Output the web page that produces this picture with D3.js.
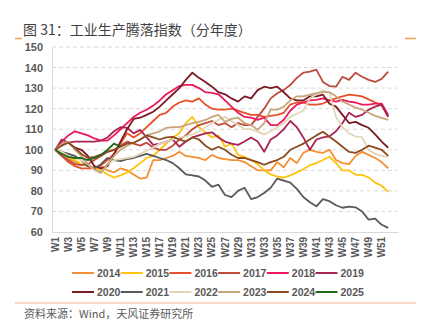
<!DOCTYPE html>
<html><head><meta charset="utf-8">
<script src="https://cdn.jsdelivr.net/npm/d3@7"></script>
<style>
body{margin:0;background:#fff;}
svg{display:block;}
</style></head>
<body>
<svg id="chart" width="424" height="328"></svg>
<script>
const weeks = d3.range(1, 54).map(i => "W" + i);
const tickLabels = d3.range(1, 52, 2).map(i => "W" + i);
const yTicks = [60, 70, 80, 90, 100, 110, 120, 130, 140, 150];
const years = ["2014","2015","2016","2017","2018","2019","2020","2021","2022","2023","2024","2025"];
const colors = ["#F39035","#FFC20E","#E8502A","#BE4B3C","#F0185C","#A82452","#7A1A22","#595959","#E4D5BA","#C9A57B","#8B4A1F","#1E6B1E"];

const s2014 = [100,98,96,94,93,92,91,92,90,89,91,90,88,86,86.5,95,95,96,97,99,97,96.5,96,95,97.5,96,95.5,95,95,94,92,90,90,90,94,91.5,96,93.5,98.5,100,99,98.5,100,95,93.5,93,97,99,97.5,96,94,91];
const s2015 = [100,98,96.5,95,93,92,91.5,90,88,86.5,87.5,89,91,93.5,96,97,100,103,106,108,113,116,111,108.5,106,107,101.5,103,97.5,96.5,95,93,90,88,87,86.5,87.5,89,90.5,92.5,93.5,95,96.6,93.5,90,90,87.8,87.8,86.5,84,82.5,79.5];
const s2016 = [100,97,94,92,91,91,91,92.5,95,98,103,108,106,108,111,114,117,118,121,123,124,123.4,125,122,120,119.5,119.5,120,119,118,117,117,116,116.5,117,118,122,123,123,122,122,122.5,124,125,126,126.8,126.5,126,124.5,123,121.5,116];
const s2017 = [100,97,95,93,92.5,93,95,97,99,100,102,104,103,102,103.5,101,100,100,102,105,107,110,112,113,114,112,113,111,113,112,112,116,120,125,127.5,129,131.5,135,137.5,138,139,133,131,130.7,135.5,134,137.5,135.5,134,133,134.5,138];
const s2018 = [100,104,107,109,108,107,105.5,104.5,104.5,107,110,113,116,118,119.5,121.5,124,127,129,131,131.6,131.6,130,128,127.7,127,124,121,118,116,115.6,114.6,115.6,112,112,114.6,119,122,123,124,124.3,125,124,123.4,124.3,123.4,123,122,122,122.5,122.5,117];
const s2019 = [100,105,103.5,104,104,104,104,104.5,106,109,111,110.7,108,109.7,106,102.4,103,104,105,101.5,104,106,107,108,108.5,106,104,103,102.4,104,106,104,99,105,107,110,114,111,106,100,105,106,106.5,109,113,118,116,117,119.5,121,122,116];
const s2020 = [100,103,103.5,101,100,97,92,91,92,98,104,110,115,115.6,117,118.5,121,124,127,130,134,137.5,135,133,130.7,128,127,125,123.4,126,125,129,130.7,130,130.7,128,125,124,124,126,126,126.8,122.4,121,117,113,113.6,112,110.7,107.5,104,101];
const s2021 = [100,99,98,97,95,92,91,93,96,95,94.5,95.5,96,97,98,97,96,95,93.5,91,88,87.5,87,85,82,83,78,77,80,81.5,76,77,79,81.5,86,85,84,81,77,74.5,72.5,76,75,73,71.8,72.3,72,70,66,66.5,63.5,62];
const s2022 = [100,99,97,96,95,93,90,88.5,93,95,95.5,96,96.5,98,99.5,101,103,104,105,106,106.5,107.5,109,111,113,114.6,116,114,112,110,110,108.8,107.5,109,111,113,116,117.5,119,125,127,129,127.7,116,111,108,106.5,106,100,98,97,96.5];
const s2023 = [100,103,104,100,97,93,90.5,89,93,97,100,102,103.4,105,107,108,109,110.7,111,111,112,113,113.6,114.5,116,117,113.6,115,115.6,113,112,109.7,113,119.5,119.5,121,124,126,126,126.8,127.5,128,128,126,123.5,122,120.5,119.5,118,116.5,115.5,114.6];
const s2024 = [100,102,103.4,101,98,96,96.5,97.6,99,100,101.5,103,103.4,105,107,106,105,106,106.3,105,104,106,105,102,100,101.5,100,97.6,96,96,95,94,92.7,94,95,96.6,100,101.5,103,105,107,108.8,106.3,104,101.5,99,98.5,100,102,101,100,97];
const s2025 = [100,98,96.5,96,96,95,96,97.5,100,103,101.5];
const seriesValues = [s2014,s2015,s2016,s2017,s2018,s2019,s2020,s2021,s2022,s2023,s2024,s2025];

const svg = d3.select("#chart");
const font = "'Liberation Sans', Arial, 'Noto Sans CJK SC', sans-serif";
const cjk = "'Noto Sans CJK SC', 'Liberation Sans', sans-serif";

// title
svg.append("text").attr("x", 23).attr("y", 35)
  .attr("font-family", cjk).attr("font-size", 14).attr("fill", "#3f3f3f")
  .text("图 31：工业生产腾落指数（分年度）");
svg.append("line").attr("x1", 15).attr("x2", 22).attr("y1", 38.5).attr("y2", 38.5)
  .attr("stroke", "#F0A050").attr("stroke-width", 1.5);
svg.append("line").attr("x1", 405).attr("x2", 416).attr("y1", 38.5).attr("y2", 38.5)
  .attr("stroke", "#F0A050").attr("stroke-width", 1.5);

const x = d3.scaleBand().domain(weeks).range([52, 398]);
const y = d3.scaleLinear().domain([60, 150]).range([232, 47]);

// grid
const grid = svg.append("g");
grid.selectAll("line").data(yTicks.filter(d => d > 60)).join("line")
  .attr("x1", 52).attr("x2", 398)
  .attr("y1", d => y(d)).attr("y2", d => y(d))
  .attr("stroke", "#d9d9d9").attr("stroke-dasharray", "4,3").attr("stroke-width", 1);

// y axis
const yAxis = svg.append("g").attr("transform", "translate(52,0)")
  .call(d3.axisLeft(y).tickValues(yTicks).tickSize(0).tickPadding(9));
yAxis.select(".domain").attr("stroke", "#d9d9d9");
yAxis.selectAll("text").attr("font-family", font).attr("font-size", 11)
  .attr("font-weight", "bold").attr("fill", "#595959");

// x axis
const xAxis = svg.append("g").attr("transform", "translate(0,232)")
  .call(d3.axisBottom(x).tickValues(tickLabels).tickSize(0).tickPadding(0));
xAxis.select(".domain").attr("stroke", "#d9d9d9");
xAxis.selectAll("text")
  .attr("font-family", font).attr("font-size", 10).attr("font-weight", "bold").attr("fill", "#595959")
  .attr("text-anchor", "end").attr("dy", "0.35em")
  .attr("transform", "translate(0,5) rotate(-90)").attr("x", 0).attr("y", 0);

// lines
const line = d3.line()
  .x((d, i) => x(weeks[i]) + x.bandwidth() / 2)
  .y(d => y(d));
svg.append("g").selectAll("path").data(seriesValues).join("path")
  .attr("d", d => line(d))
  .attr("fill", "none")
  .attr("stroke", (d, i) => colors[i])
  .attr("stroke-width", 1.8)
  .attr("stroke-linejoin", "round");

// legend
const legend = svg.append("g");
years.forEach((yr, i) => {
  const row = Math.floor(i / 6), col = i % 6;
  const lx = 72 + col * 48.7, ly = 273 + row * 19;
  legend.append("line").attr("x1", lx).attr("x2", lx + 22).attr("y1", ly).attr("y2", ly)
    .attr("stroke", colors[i]).attr("stroke-width", 2);
  legend.append("text").attr("x", lx + 25).attr("y", ly).attr("dy", "0.35em")
    .attr("font-family", font).attr("font-size", 10.5).attr("font-weight", "bold").attr("fill", "#595959")
    .text(yr);
});

// footer
svg.append("line").attr("x1", 15).attr("x2", 416).attr("y1", 303).attr("y2", 303)
  .attr("stroke", "#F4B183").attr("stroke-width", 1);
svg.append("text").attr("x", 24).attr("y", 318)
  .attr("font-family", cjk).attr("font-size", 11).attr("fill", "#595959")
  .text("资料来源：Wind，天风证券研究所");
</script>
</body></html>
